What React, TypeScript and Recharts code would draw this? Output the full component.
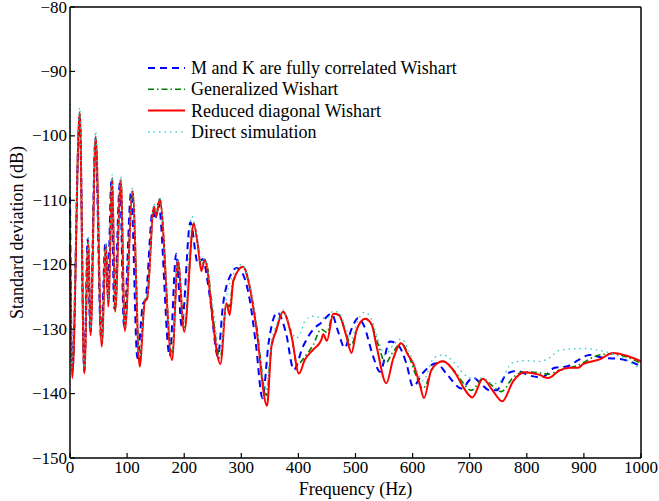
import { LineChart, Line, XAxis, YAxis, Legend } from "recharts";

const xTicks = [0, 100, 200, 300, 400, 500, 600, 700, 800, 900, 1000];
const yTicks = [-150, -140, -130, -120, -110, -100, -90, -80];

// M and K are fully correlated Wishart
const blueHz = [0, 4, 17, 25, 31, 35.5, 44.5, 54.5, 62, 66, 72.5, 77.5, 87.5, 94.5, 107, 118, 128, 132, 145, 149, 155, 174.6, 186, 195.5, 210.8, 224, 232, 245, 259, 268, 283, 292, 303, 314.7, 326, 337, 348, 363, 378, 392, 408, 425.6, 440, 457.8, 470, 481, 493, 504.4, 515, 530, 543, 560, 575, 589, 600.7, 618, 641.7, 660, 685.5, 705.8, 720, 735, 747, 764, 782, 805, 826, 849, 870, 890, 910, 925, 940, 960, 986, 1000];
const blueDb = [-109.5, -136.5, -96.8, -136.5, -116, -130.5, -100.5, -131.5, -116.5, -124.5, -107, -126.8, -107.3, -129.5, -108.8, -134.5, -126, -125.5, -111.5, -113, -110.5, -134.2, -118.3, -129.5, -113.4, -119.8, -119.1, -125, -134.2, -126.2, -121.3, -120.5, -121.5, -125.4, -132.7, -140.7, -132, -127.4, -130.5, -136.3, -132.7, -130.1, -129, -127.6, -130.5, -132.9, -130, -128.3, -129.5, -134, -136.6, -131.9, -132.5, -135.3, -138.9, -136.8, -135.3, -137, -139.2, -137.5, -138.5, -139.5, -139.5, -137, -136.5, -137.2, -137.5, -136, -135.8, -134.8, -134, -134.3, -134.5, -134.6, -135.2, -135.8];

// Generalized Wishart
const greenHz = [0, 4, 17, 25, 32, 36, 45, 55.5, 63, 67, 74, 79, 89, 96, 109.5, 122, 131, 135, 147, 151, 157, 178.6, 189, 200, 216.6, 224, 230, 236, 241, 248, 263, 274, 279, 286, 303, 314.7, 326, 344, 352.7, 361, 373, 388, 398, 411, 425.6, 440, 450, 461, 471, 484, 492, 505, 517, 528, 542, 552, 566, 580, 592, 605, 618, 637, 653, 676, 688, 703, 723, 740, 755, 776, 796, 822, 837, 857, 875, 890, 927, 951, 974, 1000];
const greenDb = [-112.5, -137, -96.5, -136.5, -116.5, -130.5, -100.3, -132.3, -117, -126, -106.5, -127, -106.8, -130, -108.5, -135, -125.5, -125.2, -111, -112.3, -109.8, -134.3, -119.5, -129.7, -113.7, -117, -120.5, -119.2, -120.5, -126, -134.5, -126, -126.5, -122.5, -120.3, -123.5, -129, -140.3, -133, -130, -127.3, -131, -135.5, -134.3, -132.5, -130, -130.5, -127.6, -127.8, -130.8, -132.5, -129.5, -128.4, -129.3, -133, -135.3, -133.5, -132.2, -133.8, -137, -139.2, -135.8, -135, -136.8, -138.3, -139.5, -137.7, -138.8, -139.7, -137.5, -136.6, -136.8, -137, -136.4, -136, -135.6, -134, -133.8, -134.3, -135.3];

// Reduced diagonal Wishart
const redHz = [0, 4, 17, 25, 32, 36, 45, 55.5, 63, 67, 74, 79, 89, 96, 109.5, 122, 131, 135, 147, 151, 157, 178.6, 189, 200, 216.6, 224, 230, 236, 241, 248, 263.4, 274, 279.7, 286, 303, 314.7, 326, 345, 352.7, 361, 373, 388, 401, 411, 425.6, 440, 443.5, 450, 461, 471, 484, 493, 502, 517, 528, 537, 554, 566, 580, 592, 601, 612, 620, 633, 653, 676, 688, 704.6, 723, 740, 757, 776, 796, 822.6, 837, 857.6, 875, 890, 899, 927.6, 951, 974, 1000];
const redDb = [-117, -137.6, -96.3, -136.9, -116.3, -131, -100.1, -132.7, -117, -126.5, -106.6, -127.3, -106.8, -130.3, -108.6, -135.8, -125.7, -125.3, -111, -112.5, -109.8, -134.8, -119.3, -130.4, -113.6, -117, -121, -119.2, -121, -127, -135.4, -126, -127.8, -122.5, -120.3, -123.4, -129.6, -141.9, -132.7, -130.3, -127.3, -131.1, -136.9, -134.8, -133.2, -131.7, -130.8, -131.8, -127.6, -127.8, -131.1, -133.7, -130.1, -128.4, -129.2, -132.7, -138.4, -134.6, -132.2, -134, -135.3, -138.4, -140.7, -136.3, -135, -137, -138.9, -140.6, -137.7, -139.5, -141.2, -138.1, -136.7, -137.1, -137.6, -136.4, -136, -136, -135.4, -134.7, -133.7, -134.1, -135];

// Direct simulation
const cyanHz = [0, 3, 17, 25, 32, 36, 45, 55.5, 63, 67, 74, 79, 89, 96, 109.5, 122, 131, 135, 147, 151, 157, 178.6, 189, 200, 213, 224, 230, 236, 248, 263, 274, 286, 300, 314.7, 326, 343, 352.7, 361, 373, 385, 396, 404, 411, 425, 440, 450, 461, 471, 484, 492, 505, 516, 528, 542, 552, 566, 580, 592, 605, 618, 637, 653, 676, 688, 703, 723, 740, 755, 773, 796, 822, 837, 857, 875, 900, 920, 950, 975, 1000];
const cyanDb = [-95, -136, -95.6, -136, -115.5, -130, -99.3, -131.8, -116.5, -125.5, -106, -126.5, -106.3, -129.5, -108, -134.5, -125, -124.7, -110.5, -112, -109.5, -133.8, -119, -129, -112.5, -116.5, -120, -119, -125, -133.5, -125, -121.5, -120, -123, -128.5, -139.5, -132, -129.5, -127, -129.5, -131.4, -130.6, -128.8, -128, -128.2, -128.3, -127.2, -127.5, -130, -131.5, -128.5, -127.4, -128.5, -132.3, -134, -132.5, -131.5, -133, -136, -138, -134.5, -134, -135.5, -136.8, -137.6, -137.6, -138.5, -138, -135.3, -134.9, -135, -134.6, -133.3, -133.1, -133, -133.2, -133.8, -134.8, -136.3];

const toPoints = (hz: number[], db: number[]) => hz.map((f, i) => ({ f, v: db[i] }));

const FONT = "'Liberation Serif', 'Times New Roman', serif";

const series = [
  { name: "M and K are fully correlated Wishart", color: "#0000ff", dash: "7 5", width: 2, data: toPoints(blueHz, blueDb) },
  { name: "Generalized Wishart", color: "#008000", dash: "6 3 1.5 3", width: 1.6, data: toPoints(greenHz, greenDb) },
  { name: "Reduced diagonal Wishart", color: "#ff0000", dash: undefined, width: 2, data: toPoints(redHz, redDb) },
  { name: "Direct simulation", color: "#30c8c8", dash: "1.5 4", width: 1.3, data: toPoints(cyanHz, cyanDb) },
];

const fmt = (v: number) => String(v).replace("-", "\u2212");

const LeftTick = ({ x, y, payload }: any) => (
  <g>
    <line x1={x} x2={x + 5} y1={y} y2={y} stroke="#000" strokeWidth={1.2} />
    <text x={x - 3} y={y} textAnchor="end" dominantBaseline="central" fontSize={17} fontFamily={FONT} fill="#000">
      {fmt(payload.value)}
    </text>
  </g>
);

const RightTick = ({ x, y }: any) => <line x1={x} x2={x - 5} y1={y} y2={y} stroke="#000" strokeWidth={1.2} />;

const BottomTick = ({ x, y, payload }: any) => (
  <g>
    <line x1={x} x2={x} y1={y} y2={y - 5} stroke="#000" strokeWidth={1.2} />
    <text x={x} y={y + 15} textAnchor="middle" fontSize={17} fontFamily={FONT} fill="#000">
      {payload.value}
    </text>
  </g>
);

const TopTick = ({ x, y }: any) => <line x1={x} x2={x} y1={y} y2={y + 5} stroke="#000" strokeWidth={1.2} />;

const LegendBox = () => (
  <svg width={330} height={90}>
    {series.map((s, i) => {
      const y = 13 + i * 21.3;
      return (
        <g key={s.name}>
          <line x1={8} x2={45} y1={y} y2={y} stroke={s.color} strokeWidth={s.width} strokeDasharray={s.dash} />
          <text x={51} y={y} dominantBaseline="central" fontSize={18} fontFamily={FONT} fill="#000">
            {s.name}
          </text>
        </g>
      );
    })}
  </svg>
);

const App = () => {
  return (
    <div style={{ position: "absolute", left: 0, top: 0, width: 659, height: 501, background: "#fff" }}>
      <LineChart width={659} height={501} margin={{ top: 6, right: 17, bottom: 42, left: 69 }}>
        <XAxis
          xAxisId="b"
          dataKey="f"
          type="number"
          domain={[0, 1000]}
          ticks={xTicks}
          height={1}
          tickSize={0}
          tickMargin={0}
          tickLine={false}
          axisLine={{ stroke: "#000", strokeWidth: 1.5 }}
          tick={<BottomTick />}
          interval={0}
          label={{ value: "Frequency (Hz)", position: "bottom", offset: 23, fontSize: 18, fontFamily: FONT, fill: "#000" }}
        />
        <XAxis
          xAxisId="t"
          orientation="top"
          type="number"
          domain={[0, 1000]}
          ticks={xTicks}
          height={1}
          tickSize={0}
          tickMargin={0}
          tickLine={false}
          axisLine={{ stroke: "#000", strokeWidth: 1.5 }}
          tick={<TopTick />}
          interval={0}
        />
        <YAxis
          yAxisId="l"
          type="number"
          domain={[-150, -80]}
          ticks={yTicks}
          width={1}
          tickSize={0}
          tickMargin={0}
          tickLine={false}
          axisLine={{ stroke: "#000", strokeWidth: 1.5 }}
          tick={<LeftTick />}
          interval={0}
          label={{
            value: "Standard deviation (dB)",
            angle: -90,
            position: "left",
            offset: 52,
            fontSize: 18,
            fontFamily: FONT,
            fill: "#000",
            style: { textAnchor: "middle" },
          }}
        />
        <YAxis
          yAxisId="r"
          orientation="right"
          type="number"
          domain={[-150, -80]}
          ticks={yTicks}
          width={1}
          tickSize={0}
          tickMargin={0}
          tickLine={false}
          axisLine={{ stroke: "#000", strokeWidth: 1.5 }}
          tick={<RightTick />}
          interval={0}
        />
        <Legend
          layout="vertical"
          align="center"
          verticalAlign="middle"
          wrapperStyle={{ left: 140, top: 55, width: 330, height: 90 }}
          content={() => <LegendBox />}
        />
        {series.map((s) => (
          <Line
            key={s.name}
            xAxisId="b"
            yAxisId="l"
            data={s.data}
            dataKey="v"
            name={s.name}
            type="monotone"
            stroke={s.color}
            strokeWidth={s.width}
            strokeDasharray={s.dash}
            dot={false}
            activeDot={false}
            isAnimationActive={false}
          />
        ))}
      </LineChart>
    </div>
  );
};

export default App;
